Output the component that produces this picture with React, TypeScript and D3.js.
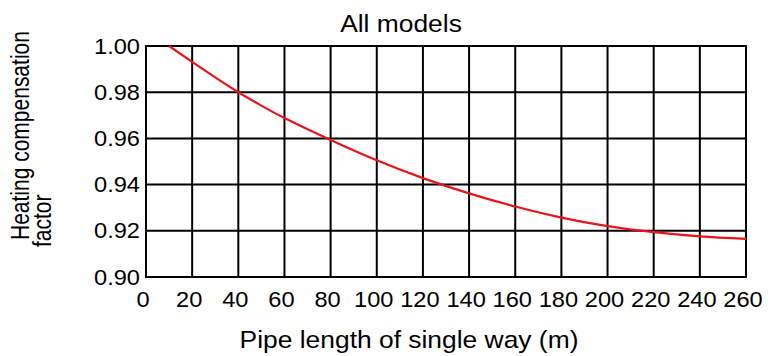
import React from "react";
import * as d3 from "d3";

const lengths = [10, 20, 30, 40, 50, 60, 80, 100, 120, 140, 160, 180, 200, 220, 240, 260];
const factors = [1.0, 0.9931, 0.9864, 0.98, 0.9742, 0.9688, 0.9593, 0.9505, 0.9428, 0.9362, 0.9305, 0.9257, 0.922, 0.9194, 0.9176, 0.9165];
const xTicks = [0, 20, 40, 60, 80, 100, 120, 140, 160, 180, 200, 220, 240, 260];
const yTicks = [0.9, 0.92, 0.94, 0.96, 0.98, 1.0];
const title = "All models";
const xTitle = "Pipe length of single way (m)";
const yTitleLines = ["Heating compensation", "factor"];

const W = 773;
const H = 356;
const FONT = "'Liberation Sans', Arial, Helvetica, sans-serif";
const SX = 1.1; // horizontal stretch of the reference's lettering

export default function App() {
  const x = d3.scaleLinear().domain([0, 260]).range([146, 746]);
  const y = d3.scaleLinear().domain([0.9, 1.0]).range([277, 46]);
  const pts = lengths.map((l, i) => [l, factors[i]] as [number, number]);
  const line = d3
    .line<[number, number]>()
    .x((d) => x(d[0]))
    .y((d) => y(d[1]))
    .curve(d3.curveNatural);

  return (
    <svg
      width={W}
      height={H}
      style={{ position: "absolute", left: 0, top: 0, background: "#fff" }}
      fontFamily={FONT}
    >
      <rect x={0} y={0} width={W} height={H} fill="#fff" />
      {xTicks.map((t) => (
        <line key={"gx" + t} x1={x(t)} x2={x(t)} y1={y(0.9)} y2={y(1.0)} stroke="#000" strokeWidth={2} />
      ))}
      {yTicks.map((t) => (
        <line key={"gy" + t} x1={x(0)} x2={x(260)} y1={y(t)} y2={y(t)} stroke="#000" strokeWidth={2} />
      ))}
      <rect x={x(0)} y={y(1.0)} width={x(260) - x(0)} height={y(0.9) - y(1.0)} fill="none" stroke="#000" strokeWidth={2} />
      <path d={line(pts) || ""} fill="none" stroke="#e8141b" strokeWidth={2.2} />
      {yTicks.map((t) => (
        <g key={"ty" + t} transform={`translate(${x(0) - 6},${y(t) + 7.5}) scale(1.05,1)`}>
          <text textAnchor="end" fontSize={22.5} fill="#000">
            {t.toFixed(2)}
          </text>
        </g>
      ))}
      {xTicks.map((t) => (
        <g key={"tx" + t} transform={`translate(${x(t) - 3},306.5) scale(1.05,1)`}>
          <text textAnchor="middle" fontSize={22.5} fill="#000">
            {t}
          </text>
        </g>
      ))}
      <g transform={`translate(401,31.5) scale(${SX},1)`}>
        <text textAnchor="middle" fontSize={24} fill="#000">
          {title}
        </text>
      </g>
      <g transform={`translate(409,348) scale(${SX},1)`}>
        <text textAnchor="middle" fontSize={24} fill="#000">
          {xTitle}
        </text>
      </g>
      <text transform={`translate(28.5,240) rotate(-90) scale(1,1.2)`} fontSize={21} fill="#000">
        {yTitleLines[0]}
      </text>
      <text transform={`translate(51,247) rotate(-90) scale(1,1.2)`} fontSize={21} fill="#000">
        {yTitleLines[1]}
      </text>
    </svg>
  );
}
